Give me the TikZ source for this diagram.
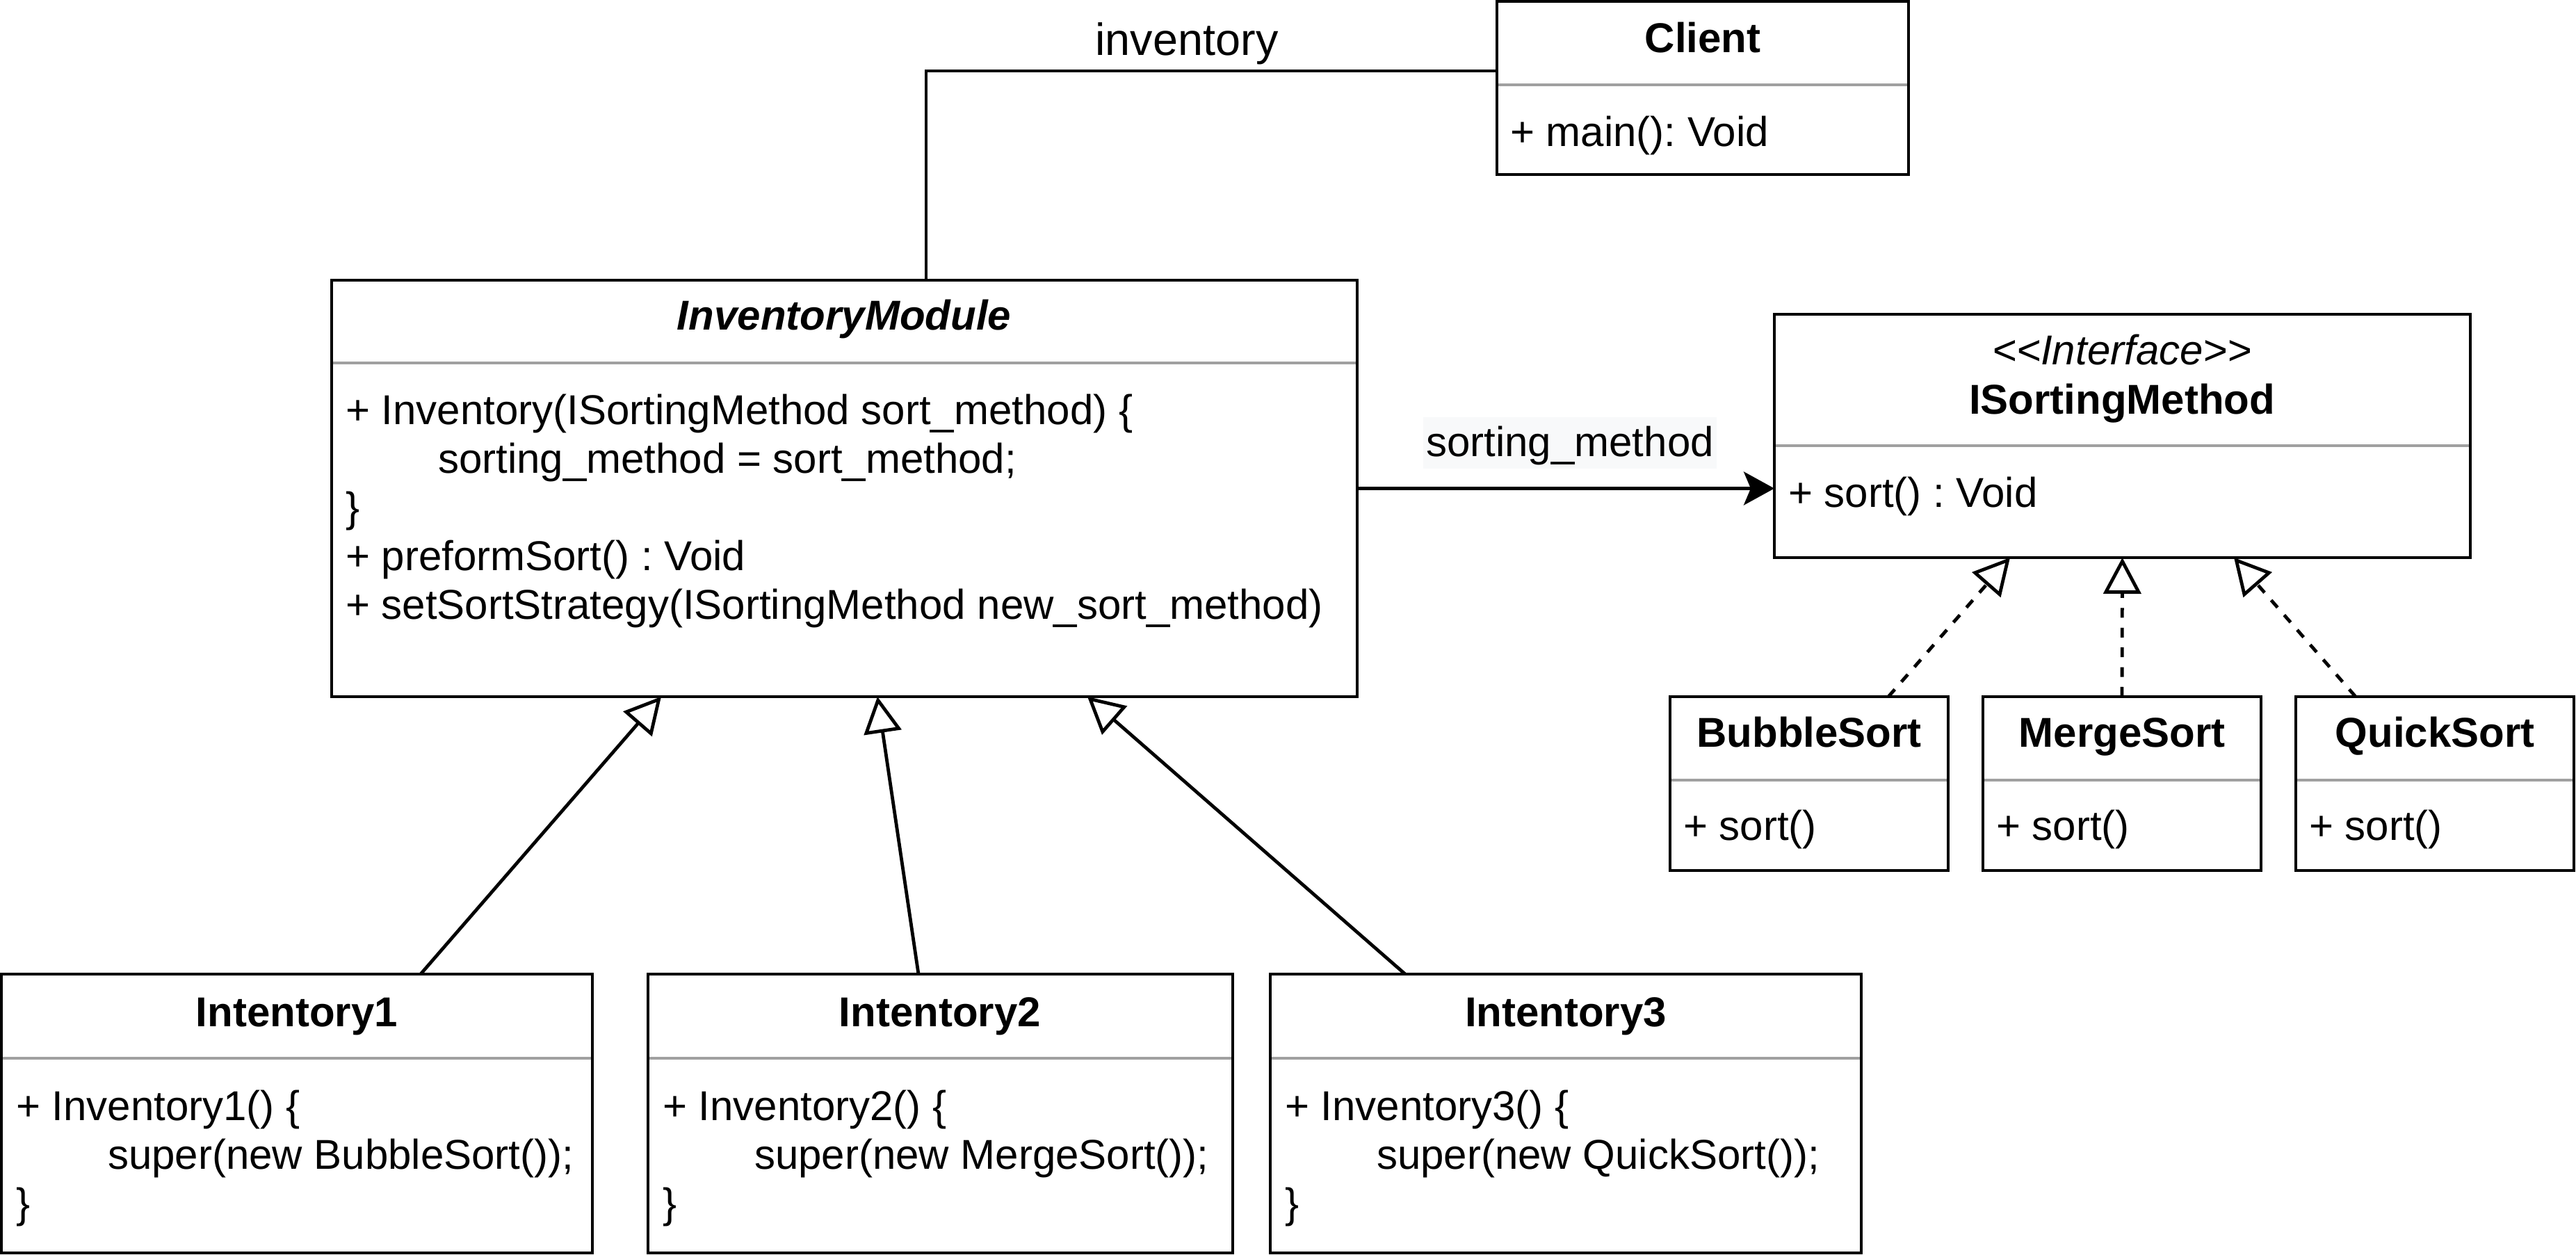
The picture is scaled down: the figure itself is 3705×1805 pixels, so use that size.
\documentclass[tikz,border=0pt]{standalone}
\usepackage{fontspec}
\setmainfont{Liberation Sans}
\usetikzlibrary{arrows.meta,calc}
\newcommand\upx{0.25pt}
\definecolor{sepgray}{RGB}{160,160,160}
\definecolor{labelbg}{RGB}{248,249,250}
\newcommand\umlbox[6]{%
  \draw[sepline] (#2,#6) -- (#4,#6);
  \node[box, minimum width={(#4-#2)*\upx}, minimum height={(#5-#3)*\upx}] (#1) at (#2,#3) {};}
\frenchspacing
\begin{document}
\begin{tikzpicture}[x=0.25pt,y=-0.25pt, line width=1.2pt,
  box/.style={draw, line width=1.2pt, inner sep=0pt, outer sep=0pt, anchor=north west},
  sepline/.style={draw=sepgray, line width=1.2pt},
  txt/.style={inner sep=0pt, outer sep=0pt, anchor=base west, font=\fontsize{15}{18}\selectfont},
  ttl/.style={inner sep=0pt, outer sep=0pt, anchor=base, font=\fontsize{15}{18}\selectfont\bfseries},
  lbl/.style={inner sep=0pt, outer sep=0pt, anchor=base, font=\fontsize{15}{18}\selectfont},
  gen/.style={-{Triangle[open, length=13pt, width=13.5pt]}},
  real/.style={gen, dash pattern=on 3.5pt off 3.6pt},
  assoc/.style={-{Stealth[length=11pt, width=12pt, inset=2.5pt]}}
]
\useasboundingbox (0,0) rectangle (3705,1805);

% classes
\umlbox{client}{2153}{2}{2745}{251}{122}
\umlbox{im}{477}{403}{1952}{1002}{522}
\umlbox{ism}{2552}{452}{3553}{802}{641}
\umlbox{bs}{2402}{1002}{2802}{1252}{1122}
\umlbox{ms}{2852}{1002}{3252}{1252}{1122}
\umlbox{qs}{3302}{1002}{3702}{1252}{1122}
\umlbox{i1}{2}{1401}{852}{1802}{1522}
\umlbox{i2}{932}{1401}{1773}{1802}{1522}
\umlbox{i3}{1827}{1401}{2677}{1802}{1522}

% Client
\node[ttl] (clientT) at (2449,76) {Client};
\node[txt] (clientA) at (2172,211) {+ main(): Void};

% InventoryModule
\node[ttl] (imT) at (1214,475) {\itshape InventoryModule};
\node[txt] (imA) at (497,611) {+ Inventory(ISortingMethod sort\_method) \{};
\node[txt] (imB) at (630,681) {sorting\_method = sort\_method;};
\node[txt] (imC) at (497,751) {\}};
\node[txt] (imD) at (497,821) {+ preformSort() : Void};
\node[txt] (imE) at (497,891) {+ setSortStrategy(ISortingMethod new\_sort\_method)};

% ISortingMethod
\node[ttl] (ismS) at (3052,525) {\mdseries\itshape <{}<Interface>{}>};
\node[ttl] (ismT) at (3052,596) {ISortingMethod};
\node[txt] (ismA) at (2572,730) {+ sort() : Void};

% concrete strategies
\node[ttl] (bsT) at (2602,1075) {BubbleSort};
\node[txt] (bsA) at (2421,1208) {+ sort()};
\node[ttl] (msT) at (3052,1075) {MergeSort};
\node[txt] (msA) at (2871,1208) {+ sort()};
\node[ttl] (qsT) at (3502,1075) {QuickSort};
\node[txt] (qsA) at (3321,1208) {+ sort()};

% Intentory classes
\node[ttl] (i1T) at (427,1476) {Intentory1};
\node[txt] (i1A) at (23,1611) {+ Inventory1() \{};
\node[txt] (i1B) at (155,1681) {super(new BubbleSort());};
\node[txt] (i1C) at (23,1751) {\}};
\node[ttl] (i2T) at (1352,1476) {Intentory2};
\node[txt] (i2A) at (953,1611) {+ Inventory2() \{};
\node[txt] (i2B) at (1085,1681) {super(new MergeSort());};
\node[txt] (i2C) at (953,1751) {\}};
\node[ttl] (i3T) at (2252,1476) {Intentory3};
\node[txt] (i3A) at (1848,1611) {+ Inventory3() \{};
\node[txt] (i3B) at (1980,1681) {super(new QuickSort());};
\node[txt] (i3C) at (1848,1751) {\}};

% inventory association
\draw ($(im.north west)+(855,0)$) |- ($(client.north west)+(0,100)$);
\node[lbl, font=\fontsize{16.2}{19}\selectfont] (invL) at (1707,80) {inventory};

% sorting_method association
\draw[assoc] (im.east) -- (im.east -| ism.west);
\node[lbl, fill=labelbg, text height=14.25pt, text depth=4.25pt, inner xsep=1pt] (smL) at (2258,657) {sorting\_method};

% generalizations
\draw[gen] ($(i1.north west)+(603,0)$) -- ($(im.south west)+(474,0)$);
\draw[gen] ($(i2.north west)+(389,0)$) -- ($(im.south west)+(785,0)$);
\draw[gen] ($(i3.north west)+(194,0)$) -- ($(im.south west)+(1087,0)$);

% realizations
\draw[real] ($(bs.north west)+(314,0)$) -- ($(ism.south west)+(339,0)$);
\draw[real] (ms.north) -- (ism.south);
\draw[real] ($(qs.north west)+(86,0)$) -- ($(ism.south west)+(661,0)$);
\end{tikzpicture}
\end{document}
